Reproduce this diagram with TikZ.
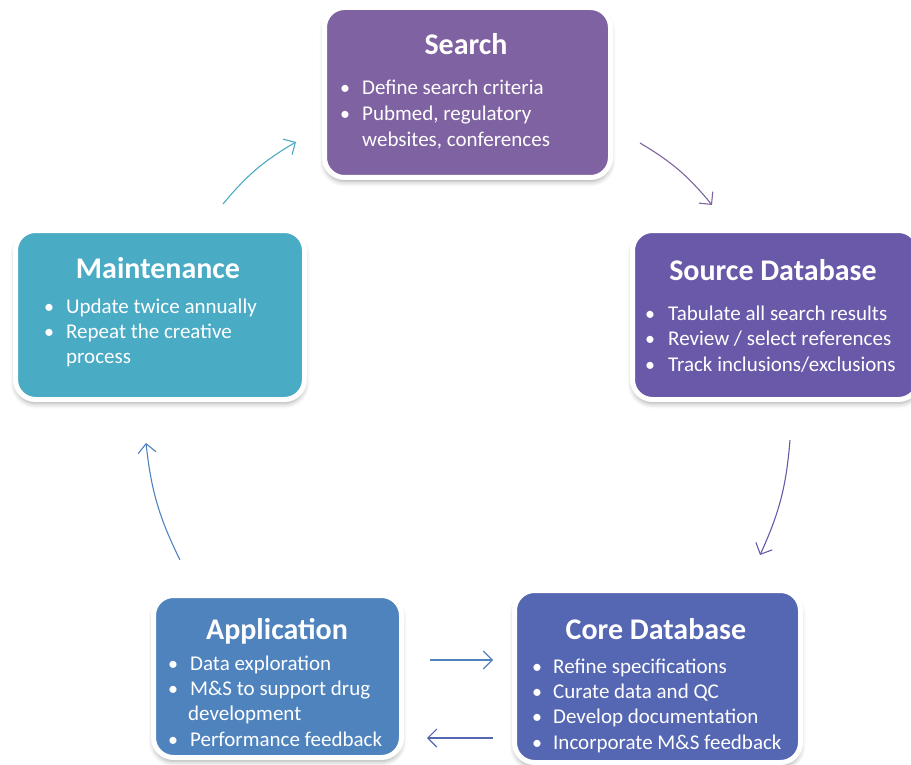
\documentclass[tikz,border=0pt]{standalone}
\usepackage{fontspec}
\setmainfont{Carlito}
\usetikzlibrary{arrows.meta,shadows.blur}
\definecolor{cSearch}{HTML}{7F62A1}
\definecolor{cSource}{HTML}{6959A8}
\definecolor{cCore}{HTML}{5566B2}
\definecolor{cApp}{HTML}{4F83BE}
\definecolor{cMaint}{HTML}{4AABC5}
\tikzset{
  card/.style={draw=white, line width=5pt, rounded corners=20pt, fill=#1,
    blur shadow={shadow xshift=0pt, shadow yshift=-4pt, shadow blur radius=5pt, shadow opacity=35}},
  ttl/.style={anchor=base, text=white, font=\fontsize{30}{33}\selectfont\bfseries, inner sep=0pt},
  body/.style={anchor=base west, text=white, font=\fontsize{21}{24}\selectfont, inner sep=0pt},
  bul/.style={anchor=base, text=white, font=\fontsize{20}{24}\selectfont, inner sep=0pt},
  flow/.style={line width=1.1pt, -{Straight Barb[length=9pt,width=18pt]}, #1}
}
\begin{document}
\begin{tikzpicture}[x=1pt,y=1pt]
\useasboundingbox (0,0) rectangle (911,-765);
% boxes
\path[card=cSearch] (324.5,-7.5) rectangle (610.5,-177.5) coordinate (searchbox);
\path[card=cSource] (632.5,-230.5) rectangle (918.5,-399.5) coordinate (sourcebox);
\path[card=cCore] (514.5,-590.5) rectangle (800.5,-762.5) coordinate (corebox);
\path[card=cApp] (153.5,-595.5) rectangle (401.5,-757.5) coordinate (appbox);
\path[card=cMaint] (15.5,-230.5) rectangle (304.5,-399.5) coordinate (maintbox);
% Search
\node[ttl] (t1) at (466,-55) {Search};
\node[bul] (s1b) at (345,-95) {•};
\node[body] (s1) at (362,-95) {Define search criteria};
\node[bul] (s2b) at (345,-120.7) {•};
\node[body] (s2) at (362,-120.7) {Pubmed, regulatory};
\node[body] (s3) at (362,-146.5) {websites, conferences};
% Source
\node[ttl] (t2) at (773,-280) {Source Database};
\node[bul] (r1b) at (650,-320) {•};
\node[body] (r1) at (668,-320) {Tabulate all search results};
\node[bul] (r2b) at (650,-345.5) {•};
\node[body] (r2) at (668,-345.5) {Review / select references};
\node[bul] (r3b) at (650,-371) {•};
\node[body] (r3) at (668,-371) {Track inclusions/exclusions};
% Core
\node[ttl] (t3) at (656,-639) {Core Database};
\node[bul] (c1b) at (537,-673) {•};
\node[body] (c1) at (553,-673) {Refine specifications};
\node[bul] (c2b) at (537,-698.5) {•};
\node[body] (c2) at (553,-698.5) {Curate data and QC};
\node[bul] (c3b) at (537,-723.5) {•};
\node[body] (c3) at (553,-723.5) {Develop documentation};
\node[bul] (c4b) at (537,-749) {•};
\node[body] (c4) at (553,-749) {Incorporate M\&S feedback};
% Application
\node[ttl] (t4) at (277,-639) {Application};
\node[bul] (a1b) at (173,-670) {•};
\node[body] (a1) at (190,-670) {Data exploration};
\node[bul] (a2b) at (173,-695) {•};
\node[body] (a2) at (190,-695) {M\&S to support drug};
\node[body] (a3) at (188,-720.5) {development};
\node[bul] (a4b) at (173,-746) {•};
\node[body] (a4) at (190,-746) {Performance feedback};
% Maintenance
\node[ttl] (t5) at (158,-278) {Maintenance};
\node[bul] (m1b) at (49,-313) {•};
\node[body] (m1) at (66,-313) {Update twice annually};
\node[bul] (m2b) at (49,-338) {•};
\node[body] (m2) at (66,-338) {Repeat the creative};
\node[body] (m3) at (66,-363.5) {process};
% arrow end points
\coordinate (e1a) at (640,-143); \coordinate (e1b) at (712,-205);
\coordinate (e2a) at (790,-440); \coordinate (e2b) at (760,-555);
\coordinate (e3a) at (493,-738); \coordinate (e3b) at (427,-738);
\coordinate (e4a) at (430,-660); \coordinate (e4b) at (493,-660);
\coordinate (e5a) at (180,-560); \coordinate (e5b) at (146,-443);
\coordinate (e6a) at (223,-204); \coordinate (e6b) at (296,-142);
\draw[flow=cSearch] (e1a) to[bend left=10] (e1b);
\draw[flow=cSource] (e2a) to[bend left=10] (e2b);
\draw[flow=cCore] (e3a) -- (e3b);
\draw[flow=cApp] (e4a) -- (e4b);
\draw[flow=cApp] (e5a) to[bend left=10] (e5b);
\draw[flow=cMaint] (e6a) to[bend left=10] (e6b);
\end{tikzpicture}
\end{document}
